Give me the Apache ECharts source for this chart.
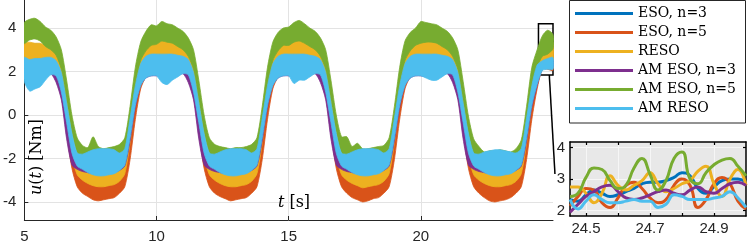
<!DOCTYPE html>
<html><head><meta charset="utf-8">
<script src="https://cdn.jsdelivr.net/npm/echarts@6/dist/echarts.min.js"></script>
<style>html,body{margin:0;padding:0;background:#fff}#c{width:748px;height:244px}</style>
</head><body><div id="c"></div>
<script>
// ---- data ----
const time = [
5,5.2,5.4,5.6,5.8,6,6.2,6.4,6.6,6.8,7,7.2,7.4,7.6,7.8,8,8.2,8.4,8.6,8.8,9,9.2,9.4,9.6,9.8,
10,10.2,10.4,10.6,10.8,11,11.2,11.4,11.6,11.8,12,12.2,12.4,12.6,12.8,13,13.2,13.4,13.6,13.8,14,14.2,14.4,14.6,14.8,
15,15.2,15.4,15.6,15.8,16,16.2,16.4,16.6,16.8,17,17.2,17.4,17.6,17.8,18,18.2,18.4,18.6,18.8,19,19.2,19.4,19.6,19.8,
20,20.2,20.4,20.6,20.8,21,21.2,21.4,21.6,21.8,22,22.2,22.4,22.6,22.8,23,23.2,23.4,23.6,23.8,24,24.2,24.4,24.6,24.8,
25];

// upper / lower envelope of each noisy signal
const esoN3Upper = [
3.15,3.25,3.27,3.25,3.15,3.05,2.75,1.95,0.35,-1.3,-2.15,-2.4,-2.55,-2.65,-2.7,-2.7,-2.65,-2.6,-2.45,-2.1,-0.75,1.05,2.35,2.85,3.05,
3.2,3.25,3.3,3.25,3.15,3.05,2.75,1.95,0.35,-1.3,-2.15,-2.4,-2.55,-2.7,-2.7,-2.75,-2.65,-2.6,-2.45,-2.1,-0.75,1.05,2.35,2.85,3.05,
3.15,3.25,3.3,3.25,3.15,3.05,2.75,1.95,0.35,-1.3,-2.15,-2.4,-2.55,-2.65,-2.75,-2.7,-2.65,-2.6,-2.45,-2.1,-0.75,1.05,2.35,2.85,3.05,
3.15,3.3,3.25,3.25,3.15,3.05,2.75,1.95,0.35,-1.3,-2.15,-2.4,-2.55,-2.65,-2.7,-2.7,-2.65,-2.6,-2.45,-2.1,-0.75,1.05,2.35,2.9,3.2,
3.05];
const esoN3Lower = [
2.25,2.35,2.37,2.35,2.25,2.15,1.85,1.05,-0.55,-2.2,-3.05,-3.3,-3.45,-3.55,-3.6,-3.6,-3.55,-3.5,-3.35,-3.0,-1.65,0.15,1.45,1.95,2.15,
2.3,2.35,2.4,2.35,2.25,2.15,1.85,1.05,-0.55,-2.2,-3.05,-3.3,-3.45,-3.6,-3.6,-3.65,-3.55,-3.5,-3.35,-3.0,-1.65,0.15,1.45,1.95,2.15,
2.25,2.35,2.4,2.35,2.25,2.15,1.85,1.05,-0.55,-2.2,-3.05,-3.3,-3.45,-3.55,-3.65,-3.6,-3.55,-3.5,-3.35,-3.0,-1.65,0.15,1.45,1.95,2.15,
2.25,2.4,2.35,2.35,2.25,2.15,1.85,1.05,-0.55,-2.2,-3.05,-3.3,-3.45,-3.55,-3.6,-3.6,-3.55,-3.5,-3.35,-3.0,-1.65,0.15,1.45,2.45,2.6,
2.6];
const esoN5Upper = [
3.05,3.15,3.18,3.15,3.05,2.95,2.65,1.85,0.1,-1.55,-2.4,-2.65,-2.8,-2.9,-2.95,-2.95,-2.9,-2.85,-2.7,-2.4,-1.15,0.8,2.2,2.75,2.95,
3.05,3.15,3.2,3.15,3.05,2.95,2.65,1.85,0.1,-1.55,-2.4,-2.65,-2.8,-2.9,-3.0,-2.95,-2.9,-2.85,-2.7,-2.4,-1.15,0.8,2.2,2.75,2.95,
3.05,3.15,3.2,3.15,3.05,2.95,2.65,1.85,0.1,-1.55,-2.4,-2.65,-2.8,-2.95,-3.0,-3.0,-2.9,-2.85,-2.7,-2.4,-1.15,0.8,2.2,2.75,2.95,
3.05,3.15,3.18,3.15,3.05,2.95,2.65,1.85,0.1,-1.55,-2.4,-2.65,-2.8,-2.95,-3.0,-3.0,-2.9,-2.85,-2.7,-2.4,-1.15,0.8,2.2,2.9,3.05,
3.05];
const esoN5Lower = [
2.05,2.15,2.18,2.15,2.05,1.95,1.65,0.85,-0.8,-2.45,-3.3,-3.6,-3.75,-3.9,-3.95,-3.9,-3.85,-3.8,-3.6,-3.3,-2.05,-0.2,1.2,1.75,1.95,
2.05,2.15,2.2,2.15,2.05,1.95,1.65,0.85,-0.8,-2.45,-3.3,-3.6,-3.75,-3.85,-3.95,-3.9,-3.85,-3.8,-3.6,-3.3,-2.05,-0.2,1.2,1.75,1.95,
2.05,2.15,2.2,2.15,2.05,1.95,1.65,0.85,-0.8,-2.45,-3.3,-3.6,-3.8,-3.9,-4.0,-3.95,-3.85,-3.8,-3.6,-3.3,-2.05,-0.2,1.2,1.75,1.95,
2.05,2.15,2.18,2.15,2.05,1.95,1.65,0.85,-0.8,-2.45,-3.3,-3.6,-3.8,-3.95,-4.0,-3.95,-3.9,-3.8,-3.6,-3.3,-2.05,-0.2,1.2,2.1,2.1,
2.05];
const resoUpper = [
3.3,3.35,3.3,3.3,3.2,3.1,2.9,2.2,0.6,-1.1,-1.95,-2.2,-2.35,-2.45,-2.5,-2.5,-2.45,-2.4,-2.25,-1.9,-0.5,1.35,2.55,3.0,3.25,
3.35,3.4,3.42,3.4,3.25,3.15,2.9,2.2,0.6,-1.1,-1.95,-2.2,-2.35,-2.45,-2.5,-2.5,-2.45,-2.4,-2.25,-1.9,-0.5,1.35,2.55,3.0,3.25,
3.35,3.4,3.45,3.4,3.25,3.15,2.9,2.2,0.6,-1.1,-1.95,-2.2,-2.35,-2.45,-2.5,-2.5,-2.45,-2.4,-2.25,-1.9,-0.5,1.35,2.55,3.0,3.25,
3.4,3.4,3.4,3.35,3.25,3.15,2.9,2.2,0.6,-1.1,-1.95,-2.2,-2.35,-2.45,-2.5,-2.5,-2.45,-2.4,-2.25,-1.9,-0.5,1.3,2.75,3.15,3.4,
3.35];
const resoLower = [
2.4,2.45,2.4,2.4,2.3,2.2,2.0,1.3,-0.3,-1.9,-2.75,-3.0,-3.15,-3.25,-3.3,-3.3,-3.25,-3.2,-3.05,-2.7,-1.3,0.45,1.65,2.1,2.35,
2.45,2.5,2.52,2.5,2.35,2.25,2.0,1.3,-0.3,-1.9,-2.75,-3.0,-3.15,-3.25,-3.3,-3.3,-3.25,-3.2,-3.05,-2.7,-1.3,0.45,1.65,2.1,2.35,
2.45,2.5,2.55,2.5,2.35,2.25,2.0,1.3,-0.3,-1.9,-2.75,-3.0,-3.15,-3.25,-3.35,-3.3,-3.25,-3.2,-3.05,-2.7,-1.3,0.45,1.65,2.1,2.35,
2.5,2.5,2.5,2.45,2.35,2.25,2.0,1.3,-0.3,-1.9,-2.75,-3.0,-3.15,-3.25,-3.3,-3.3,-3.25,-3.2,-3.05,-2.7,-1.3,0.4,1.7,2.25,2.6,
2.45];
const amEsoN3Upper = [
2.45,2.45,2.45,2.45,2.5,2.5,2.2,1.6,-0.2,-1.4,-1.9,-1.85,-1.8,-1.75,-1.7,-1.7,-1.7,-1.75,-1.8,-1.7,-0.3,1.25,2.2,2.5,2.55,
2.55,2.6,2.6,2.6,2.55,2.55,2.2,1.6,-0.2,-1.4,-1.9,-1.85,-1.8,-1.75,-1.7,-1.7,-1.7,-1.75,-1.8,-1.7,-0.3,1.25,2.2,2.5,2.55,
2.55,2.6,2.6,2.6,2.55,2.55,2.2,1.6,-0.2,-1.4,-1.9,-1.85,-1.8,-1.75,-1.7,-1.7,-1.7,-1.75,-1.8,-1.7,-0.3,1.25,2.2,2.5,2.55,
2.55,2.6,2.6,2.6,2.55,2.55,2.2,1.6,-0.2,-1.4,-1.9,-1.85,-1.8,-1.75,-1.7,-1.7,-1.7,-1.75,-1.8,-1.7,-0.3,1.25,2.2,2.45,2.5,
2.55];
const amEsoN3Lower = [
1.7,1.6,1.6,1.6,1.75,1.9,1.5,0.7,-1.1,-2.3,-2.5,-2.6,-2.65,-2.7,-2.7,-2.7,-2.7,-2.65,-2.55,-2.35,-1.2,0.35,1.35,1.7,1.8,
1.8,1.75,1.7,1.7,1.8,1.9,1.5,0.7,-1.1,-2.3,-2.5,-2.6,-2.65,-2.7,-2.7,-2.7,-2.7,-2.65,-2.55,-2.35,-1.2,0.35,1.35,1.7,1.8,
1.8,1.75,1.7,1.7,1.8,1.9,1.5,0.7,-1.1,-2.3,-2.5,-2.6,-2.65,-2.7,-2.7,-2.7,-2.7,-2.65,-2.55,-2.35,-1.2,0.35,1.35,1.7,1.8,
1.8,1.75,1.7,1.7,1.8,1.9,1.5,0.7,-1.1,-2.3,-2.5,-2.6,-2.65,-2.7,-2.7,-2.7,-2.7,-2.65,-2.55,-2.35,-1.2,0.35,1.35,2.1,2.2,
2.2];
const amEsoN5Upper = [
4.25,4.4,4.45,4.3,4.05,3.9,3.6,3.0,1.6,0.0,-1.05,-1.4,-1.5,-1.0,-1.45,-1.55,-1.5,-1.45,-1.35,-1.05,0.4,2.2,3.35,3.85,4.15,
4.1,4.3,4.2,4.15,4.0,3.85,3.55,3.0,1.6,0.0,-1.05,-1.35,-1.45,-1.5,-1.55,-1.5,-1.5,-1.45,-1.35,-1.05,0.4,2.2,3.35,3.8,4.0,
4.05,4.25,4.35,4.2,4.0,3.85,3.55,3.0,1.6,0.0,-1.0,-1.0,-1.45,-1.3,-1.55,-1.55,-1.5,-1.45,-1.4,-1.05,0.4,2.2,3.4,3.8,4.0,
4.3,4.25,4.2,4.15,4.0,3.85,3.55,3.0,1.55,-0.05,-1.1,-1.45,-1.7,-1.65,-1.65,-1.6,-1.65,-1.7,-1.55,-1.15,0.4,2.2,3.0,3.65,3.9,
3.7];
const amEsoN5Lower = [
3.3,3.45,3.5,3.4,3.15,3.0,2.75,2.1,0.7,-0.8,-1.75,-2.1,-2.2,-2.2,-2.2,-2.25,-2.2,-2.15,-2.05,-1.75,-0.4,1.3,2.5,2.95,3.2,
3.25,3.4,3.35,3.3,3.15,3.0,2.7,2.1,0.7,-0.8,-1.75,-2.05,-2.15,-2.2,-2.25,-2.2,-2.2,-2.15,-2.05,-1.75,-0.4,1.3,2.5,2.95,3.2,
3.2,3.35,3.4,3.3,3.15,3.0,2.7,2.1,0.7,-0.8,-1.75,-1.95,-2.15,-2.2,-2.25,-2.25,-2.2,-2.15,-2.1,-1.75,-0.4,1.3,2.5,2.95,3.2,
3.3,3.35,3.35,3.3,3.15,3.0,2.7,2.1,0.65,-0.85,-1.8,-2.15,-2.35,-2.45,-2.45,-2.4,-2.4,-2.35,-2.25,-1.85,-0.4,1.3,2.2,2.7,2.8,
3.05];
const amResoUpper = [
2.65,2.55,2.6,2.6,2.65,2.65,2.5,1.95,0.55,-0.85,-1.75,-1.8,-1.7,-1.6,-1.55,-1.55,-1.55,-1.6,-1.75,-1.55,-0.15,1.35,2.35,2.7,2.8,
2.8,2.8,2.8,2.8,2.75,2.7,2.55,1.95,0.55,-0.85,-1.75,-1.8,-1.7,-1.6,-1.55,-1.55,-1.55,-1.6,-1.75,-1.55,-0.15,1.35,2.35,2.7,2.8,
2.8,2.8,2.8,2.8,2.75,2.7,2.55,1.95,0.55,-0.85,-1.75,-1.8,-1.7,-1.6,-1.55,-1.55,-1.55,-1.6,-1.75,-1.55,-0.15,1.35,2.35,2.7,2.8,
2.8,2.8,2.8,2.8,2.75,2.7,2.55,1.95,0.55,-0.85,-1.75,-1.8,-1.7,-1.65,-1.6,-1.6,-1.65,-1.7,-1.75,-1.55,-0.15,1.35,2.3,2.5,2.6,
2.65];
const amResoLower = [
1.55,1.1,1.2,1.3,1.6,1.85,1.8,1.05,-0.35,-1.75,-2.35,-2.5,-2.65,-2.75,-2.8,-2.8,-2.75,-2.7,-2.55,-2.3,-1.05,0.45,1.35,1.7,1.8,
1.8,1.5,1.4,1.6,1.75,1.9,1.85,1.05,-0.35,-1.75,-2.35,-2.5,-2.65,-2.75,-2.8,-2.8,-2.75,-2.7,-2.55,-2.3,-1.05,0.45,1.35,1.7,1.8,
1.8,1.45,1.6,1.6,1.75,1.9,1.85,1.05,-0.35,-1.75,-2.35,-2.5,-2.65,-2.75,-2.8,-2.8,-2.75,-2.7,-2.55,-2.3,-1.05,0.45,1.35,1.7,1.8,
1.8,1.7,1.6,1.6,1.75,1.9,1.85,1.05,-0.35,-1.75,-2.35,-2.5,-2.65,-2.75,-2.8,-2.8,-2.75,-2.7,-2.55,-2.3,-1.05,0.45,1.4,2.05,2.1,
2.1];

// zoomed detail, t = 24.45 ... 25
const insetTime = [24.45,24.475,24.5,24.525,24.55,24.575,24.6,24.625,24.65,24.675,24.7,24.725,24.75,24.775,24.8,24.825,24.85,24.875,24.9,24.925,24.95,24.975,25];
const insetEsoN3   = [2.35,2.3,2.5,2.65,2.55,2.45,2.5,2.6,2.7,2.85,2.9,2.9,2.95,3.05,3.2,3.1,2.7,2.55,2.75,2.95,3.0,3.0,2.9];
const insetEsoN5   = [2.15,2.45,2.7,2.65,2.25,2.1,2.4,2.8,2.9,2.7,2.4,2.25,2.35,2.8,3.0,2.8,2.1,2.35,2.85,3.05,2.85,2.3,2.05];
const insetReso    = [2.75,2.75,2.55,2.25,2.55,3.1,2.8,2.65,2.8,2.95,3.2,2.85,2.6,2.7,2.85,2.95,3.25,3.4,2.85,2.45,3.0,3.3,2.8];
const insetAmEsoN3 = [1.95,2.2,2.45,2.6,2.75,2.8,2.6,2.4,2.35,2.4,2.5,2.6,2.65,2.55,2.5,2.65,2.75,2.6,2.55,2.7,2.85,2.9,2.8];
const insetAmEsoN5 = [2.45,2.55,3.05,3.35,3.3,2.95,2.7,2.8,3.35,3.65,3.15,2.65,2.95,3.65,3.85,3.0,2.85,3.2,3.45,3.6,3.65,3.4,3.1];
const insetAmReso  = [2.35,2.05,2.3,2.5,2.35,2.25,2.25,2.3,2.35,2.3,2.3,2.1,2.2,2.5,2.45,2.35,2.35,2.35,2.4,2.45,2.6,2.4,2.1];

const seriesNames = ['ESO, n=3','ESO, n=5','RESO','AM ESO, n=3','AM ESO, n=5','AM RESO'];
const xTicks = [5,10,15,20];
const yTicks = [-4,-2,0,2,4];
const insetXTicks = [24.5,24.6,24.7,24.8,24.9];
const insetXLabels = [24.5,24.7,24.9];
const insetYTicks = [2,3,4];

// ---- chart ----
const colors = ['#0072BD','#D95319','#EDB120','#7E2F8E','#77AC30','#4DBEEE'];
const uppers = [esoN3Upper,esoN5Upper,resoUpper,amEsoN3Upper,amEsoN5Upper,amResoUpper];
const lowers = [esoN3Lower,esoN5Lower,resoLower,amEsoN3Lower,amEsoN5Lower,amResoLower];
const insets = [insetEsoN3,insetEsoN5,insetReso,insetAmEsoN3,insetAmEsoN5,insetAmReso];

const ink = '#262626';
const tickFont = {fontFamily:'Liberation Sans, Arial, sans-serif', fontSize:15, color:ink};

const series = [];
for (let i = 0; i < 6; i++) {
  const up = uppers[i], lo = lowers[i], col = colors[i];
  const band = {
    type:'custom', name:seriesNames[i], xAxisIndex:0, yAxisIndex:0, clip:true, silent:true,
    data: time.map((t,j)=>[t, lo[j], up[j]]),
    encode:{x:0, y:[1,2]},
    itemStyle:{color:col},
    renderItem:(params, api) => {
      if (params.dataIndex !== 0) return null;
      const top = [], bot = [];
      for (let j = 0; j < time.length; j++) {
        top.push(api.coord([time[j], up[j]]));
        bot.push(api.coord([time[j], lo[j]]));
      }
      return {type:'polygon', shape:{points: top.concat(bot.reverse()), smooth:0.25},
              style:{fill:col, stroke:col, lineWidth:0.8}};
    }
  };
  if (i === 5) {
    band.markArea = {
      silent:true,
      itemStyle:{color:'rgba(0,0,0,0)', borderColor:'#000', borderWidth:1.5},
      data:[[{coord:[24.45,1.84]},{coord:[25,4.2]}]]
    };
  }
  series.push(band);
}
for (let i = 0; i < 6; i++) {
  series.push({
    type:'line', name:seriesNames[i], xAxisIndex:1, yAxisIndex:1,
    data: insetTime.map((t,j)=>[t, insets[i][j]]),
    smooth:true, symbol:'none', clip:true,
    lineStyle:{width:3, color:colors[i]}, itemStyle:{color:colors[i]}, silent:true
  });
}

const chart = echarts.init(document.getElementById('c'), null, {renderer:'canvas'});
chart.setOption({
  animation:false,
  backgroundColor:'#fff',
  grid:[
    {left:22, top:0, width:531, height:220},
    {left:570, top:142, width:176, height:74, show:true, backgroundColor:'#e8e8e8', borderWidth:0}
  ],
  xAxis:[
    {type:'value', gridIndex:0, min:5, max:25,
     axisLine:{show:true, onZero:false, lineStyle:{color:ink, width:1}},
     axisTick:{show:true, inside:true, length:4, customValues:xTicks, lineStyle:{color:ink}},
     axisLabel:Object.assign({customValues:xTicks, margin:9}, tickFont),
     splitLine:{show:true, lineStyle:{color:'#e3e3e3', width:1}}},
    {type:'value', gridIndex:1, min:24.45, max:25,
     axisLine:{show:true, onZero:false, lineStyle:{color:'#000', width:1.5}},
     axisTick:{show:true, inside:true, length:3, customValues:insetXTicks, lineStyle:{color:'#000', width:1.2}},
     axisLabel:Object.assign({customValues:insetXLabels, margin:5, formatter:v=>v.toFixed(1)}, tickFont),
     splitLine:{show:true, lineStyle:{color:'#f6f6f6', width:1}}},
    {type:'value', gridIndex:1, min:24.45, max:25, position:'top',
     axisLine:{show:true, onZero:false, lineStyle:{color:'#000', width:1.5}},
     axisTick:{show:true, inside:true, length:3, customValues:insetXTicks, lineStyle:{color:'#000', width:1.2}},
     axisLabel:{show:false}, splitLine:{show:false}}
  ],
  yAxis:[
    {type:'value', gridIndex:0, min:-4.83, max:5.29,
     axisLine:{show:true, onZero:false, lineStyle:{color:ink, width:1}},
     axisTick:{show:true, inside:true, length:4, customValues:yTicks, lineStyle:{color:ink}},
     axisLabel:Object.assign({customValues:yTicks, margin:8}, tickFont),
     splitLine:{show:true, lineStyle:{color:'#e3e3e3', width:1}}},
    {type:'value', gridIndex:1, min:1.83, max:4.17,
     axisLine:{show:true, onZero:false, lineStyle:{color:'#000', width:1.5}},
     axisTick:{show:true, inside:true, length:3, customValues:insetYTicks, lineStyle:{color:'#000', width:1.2}},
     axisLabel:Object.assign({customValues:insetYTicks, margin:5}, tickFont),
     splitLine:{show:true, lineStyle:{color:'#f6f6f6', width:1}}},
    {type:'value', gridIndex:1, min:1.83, max:4.17, position:'right',
     axisLine:{show:true, onZero:false, lineStyle:{color:'#000', width:1.5}},
     axisTick:{show:true, inside:true, length:3, customValues:insetYTicks, lineStyle:{color:'#000', width:1.2}},
     axisLabel:{show:false}, splitLine:{show:false}}
  ],
  legend:{
    data:seriesNames, orient:'vertical', left:575, top:4, z:10,
    icon:'rect', itemWidth:58, itemHeight:3, itemGap:0, padding:0,
    selectedMode:false,
    textStyle:{fontFamily:'DejaVu Serif, serif', fontSize:14, color:'#000', lineHeight:19}
  },
  graphic:[
    {id:'legendBox', type:'rect', z:5, silent:true,
     shape:{x:569.5, y:0.5, width:176, height:122.5},
     style:{fill:'#fff', stroke:ink, lineWidth:1}},
    {id:'ylab', type:'text', x:37, y:157, rotation:Math.PI/2, z:20, silent:true,
     style:{text:'{i|u}({i|t}) [Nm]', fill:'#000', align:'center', verticalAlign:'middle',
            font:'16px "DejaVu Serif", serif',
            rich:{i:{fontStyle:'italic', fontFamily:'DejaVu Serif', fontSize:16, fill:'#000'}}}},
    {id:'xlab', type:'text', x:294, y:203, z:20, silent:true,
     style:{text:'{i|t} [s]', fill:'#000', align:'center', verticalAlign:'middle',
            font:'16px "DejaVu Serif", serif',
            rich:{i:{fontStyle:'italic', fontFamily:'DejaVu Serif', fontSize:16, fill:'#000'}}}}
  ],
  series:series
});

const p0 = chart.convertToPixel({gridIndex:0}, [24.86, 1.84]);
const p1 = chart.convertToPixel({gridIndex:1}, [24.403, 3.16]);
chart.setOption({graphic:[
  {id:'connector', type:'line', z:20, silent:true,
   shape:{x1:p0[0], y1:p0[1], x2:p1[0], y2:p1[1]},
   style:{stroke:'#000', lineWidth:1.5}}
]});
</script>
</body></html>
